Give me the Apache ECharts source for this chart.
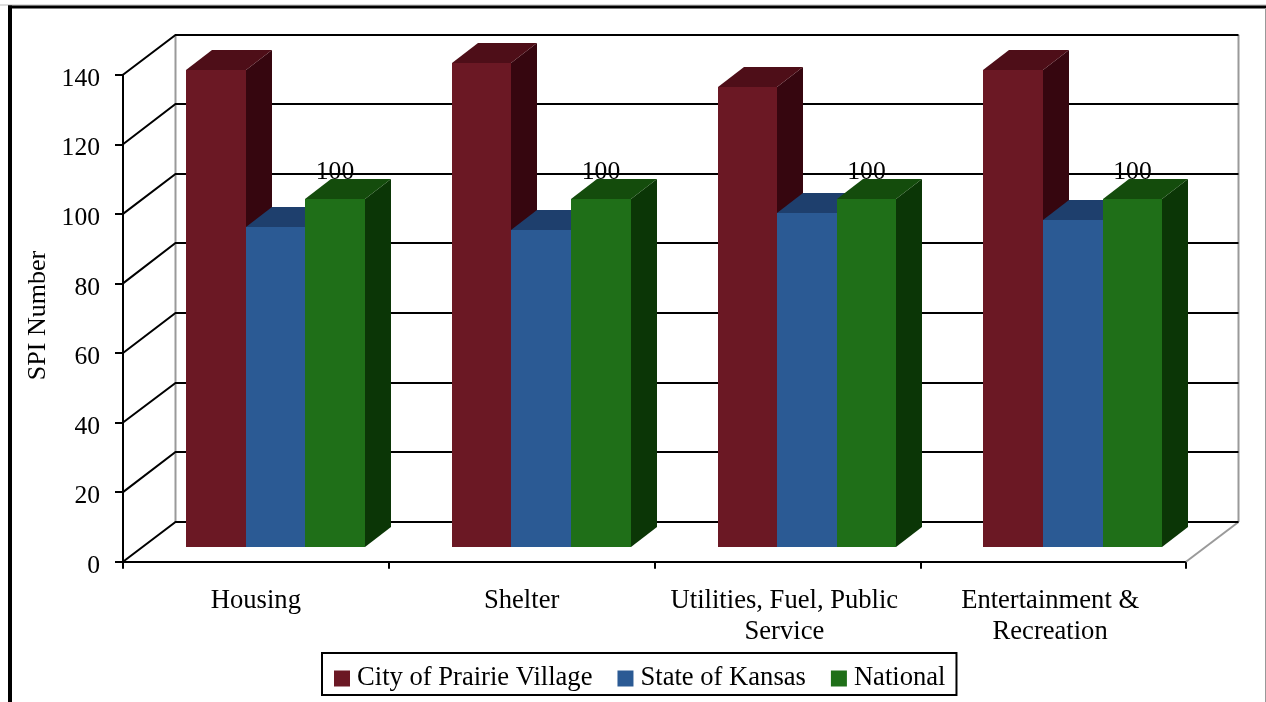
<!DOCTYPE html>
<html>
<head>
<meta charset="utf-8">
<style>html,body{margin:0;padding:0;background:#fff}#chart{width:1266px;height:702px}</style>
<script src="https://cdn.jsdelivr.net/npm/echarts@6/dist/echarts.min.js"></script>
</head>
<body>
<div id="chart"></div>
<script>
var categories = ['Housing', 'Shelter', 'Utilities, Fuel, Public\nService', 'Entertainment &\nRecreation'];
var cityValues = [137.2, 139.2, 132.3, 137.2];
var stateValues = [92.1, 91.2, 96.1, 94.1];
var nationalValues = [100, 100, 100, 100];
var yTicks = [0, 20, 40, 60, 80, 100, 120, 140];
var seriesNames = ['City of Prairie Village', 'State of Kansas', 'National'];

var FONT = '"Liberation Serif","Times New Roman",serif';
var FS = 26.6;
var DEPTH_X = 52.5, DEPTH_Y = 40;     // chart box depth
var BAR_DX = 19.6, BAR_DY = 14.7;     // bars' front plane
var BAR_SIDE_X = 26, BAR_SIDE_Y = 20; // bars' own depth
var BAR_W = 59.6;
var LINE = '#000', WALL = '#9a9a9a';

function wallRender(params, api) {
  var cs = params.coordSys, p = api.coord([0, api.value(1)]);
  var x0 = cs.x, x1 = cs.x + cs.width, y = p[1];
  var by = Math.round(y - DEPTH_Y);
  var children = [{
    type: 'polyline',
    shape: { points: [[x0, y], [x0 + DEPTH_X, by], [x1 + DEPTH_X, by]] },
    style: { stroke: LINE, lineWidth: 2, fill: null }
  }];
  if (params.dataIndex === 0) {
    var top = api.coord([0, yTicks[yTicks.length - 1]])[1];
    children.unshift(
      { type: 'line', shape: { x1: x0 + DEPTH_X, y1: by, x2: x0 + DEPTH_X, y2: top - DEPTH_Y }, style: { stroke: WALL, lineWidth: 2 } },
      { type: 'line', shape: { x1: x1 + DEPTH_X, y1: by, x2: x1 + DEPTH_X, y2: top - DEPTH_Y }, style: { stroke: WALL, lineWidth: 2 } },
      { type: 'line', shape: { x1: x1, y1: y, x2: x1 + DEPTH_X, y2: by }, style: { stroke: WALL, lineWidth: 2 } }
    );
  }
  return { type: 'group', children: children };
}

function barRender(slot, front, topC, sideC, showLabel) {
  return function (params, api) {
    var c = api.coord([api.value(0), api.value(1)]);
    var base = api.coord([api.value(0), 0]);
    var x = Math.round(c[0] + BAR_DX + (slot - 1.5) * BAR_W);
    var xr = Math.round(c[0] + BAR_DX + (slot - 0.5) * BAR_W);
    var yt = Math.round(c[1] - BAR_DY), yb = Math.round(base[1] - BAR_DY);
    var sx = BAR_SIDE_X, sy = BAR_SIDE_Y;
    var children = [
      { type: 'polygon', shape: { points: [[xr, yt], [xr + sx, yt - sy], [xr + sx, yb - sy], [xr, yb]] }, style: { fill: sideC } },
      { type: 'polygon', shape: { points: [[x, yt], [xr, yt], [xr + sx, yt - sy], [x + sx, yt - sy]] }, style: { fill: topC } },
      { type: 'rect', shape: { x: x, y: yt, width: xr - x, height: yb - yt }, style: { fill: front } }
    ];
    if (showLabel) {
      children.push({
        type: 'text',
        style: { x: (x + xr) / 2, y: yt - 27, text: String(api.value(1)), fill: '#000', font: '25.6px ' + FONT, align: 'center', verticalAlign: 'middle' }
      });
    }
    return { type: 'group', children: children };
  };
}

function barData(values) { return values.map(function (v, i) { return [i, v]; }); }

function catLabel(value, index) {
  var style = index >= 2 ? 's' : 'n';
  return String(value).split('\n').map(function (t) { return '{' + style + '|' + t + '}'; }).join('\n');
}

var chart = echarts.init(document.getElementById('chart'), null, { renderer: 'canvas' });
chart.setOption({
  animation: false,
  backgroundColor: '#fff',
  textStyle: { fontFamily: FONT },
  grid: { left: 123, top: 74.7, width: 1063, height: 487, containLabel: false },
  xAxis: {
    type: 'category', data: categories, boundaryGap: true,
    axisLine: { show: true, lineStyle: { color: LINE, width: 2 } },
    axisTick: { show: true, length: 7, lineStyle: { color: LINE, width: 2 } },
    axisLabel: {
      color: '#000', fontSize: FS, fontFamily: FONT, lineHeight: 31, margin: 24, interval: 0,
      formatter: catLabel,
      rich: {
        n: { color: '#000', fontSize: FS, fontFamily: FONT, lineHeight: 31 },
        s: { color: '#000', fontSize: FS, fontFamily: FONT, lineHeight: 31, padding: [0, 6, 0, 0] }
      }
    },
    splitLine: { show: false }
  },
  yAxis: {
    type: 'value', min: 0, max: 140, interval: 20,
    axisLine: { show: true, lineStyle: { color: LINE, width: 2 } },
    axisTick: { show: true, length: 8, lineStyle: { color: LINE, width: 2 } },
    axisLabel: { color: '#000', fontSize: 25.6, fontFamily: FONT, margin: 23, verticalAlign: 'top', lineHeight: 9 },
    splitLine: { show: false }
  },
  legend: {
    data: seriesNames, left: 322, top: 653, orient: 'horizontal',
    icon: 'rect', itemWidth: 16, itemHeight: 16, itemGap: 25,
    padding: [12, 11, 3, 12], borderColor: '#000', borderWidth: 2, backgroundColor: '#fff',
    selectedMode: false,
    textStyle: { color: '#000', fontSize: FS, fontFamily: FONT, padding: [0, 0, 0, 2] }
  },
  graphic: [
    { type: 'rect', shape: { x: 0, y: 4.5, width: 1266, height: 1 }, style: { fill: '#bbb' }, silent: true },
    { type: 'rect', shape: { x: 8, y: 5.5, width: 1258, height: 3 }, style: { fill: '#000' }, silent: true },
    { type: 'rect', shape: { x: 8, y: 5.5, width: 4, height: 697 }, style: { fill: '#000' }, silent: true },
    { type: 'rect', shape: { x: 1265, y: 8, width: 1, height: 694 }, style: { fill: '#999' }, silent: true },
    { type: 'text', x: 38, y: 315.5, rotation: Math.PI / 2, silent: true,
      style: { text: 'SPI Number', fill: '#000', font: '26px ' + FONT, align: 'center', verticalAlign: 'middle' } }
  ],
  series: [
    { type: 'custom', name: 'walls', z: 1, silent: true, data: yTicks.map(function (v) { return [0, v]; }), renderItem: wallRender },
    { type: 'custom', name: seriesNames[0], z: 2, itemStyle: { color: '#6b1824' }, data: barData(cityValues), renderItem: barRender(0, '#6b1824', '#4e0e18', '#36060f', false) },
    { type: 'custom', name: seriesNames[1], z: 3, itemStyle: { color: '#2b5a94' }, data: barData(stateValues), renderItem: barRender(1, '#2b5a94', '#1e3f6d', '#153058', false) },
    { type: 'custom', name: seriesNames[2], z: 4, itemStyle: { color: '#1f6f18' }, data: barData(nationalValues), renderItem: barRender(2, '#1f6f18', '#144c0c', '#0b3606', true) }
  ]
});
</script>
</body>
</html>
